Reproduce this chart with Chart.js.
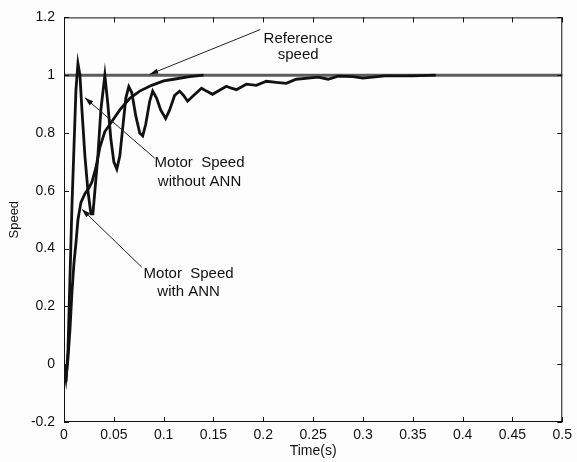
<!DOCTYPE html>
<html>
<head>
<meta charset="utf-8">
<script src="https://cdn.jsdelivr.net/npm/chart.js@4/dist/chart.umd.min.js"></script>
<style>
html,body{margin:0;padding:0;background:#fdfdfd;}
#wrap{position:relative;width:577px;height:462px;}
</style>
</head>
<body>
<div id="wrap"><canvas id="c" width="577" height="462"></canvas></div>
<script>
// ---- data ----
const timeNoANN = [0,0.002,0.004,0.006,0.008,0.010,0.012,0.014,0.016,0.018,0.021,0.024,0.027,0.029,0.031,0.034,0.037,0.041,0.044,0.047,0.050,0.053,0.056,0.059,0.062,0.065,0.068,0.072,0.076,0.079,0.082,0.086,0.089,0.093,0.097,0.102,0.106,0.111,0.116,0.120,0.124,0.130,0.138,0.143,0.149,0.156,0.163,0.168,0.173,0.183,0.193,0.203,0.213,0.223,0.233,0.245,0.255,0.265,0.275,0.290,0.300,0.322,0.350,0.373];
const speedNoANN = [0,-0.06,0.05,0.30,0.55,0.75,0.95,1.04,1.00,0.88,0.72,0.60,0.52,0.52,0.60,0.72,0.88,1.00,0.90,0.78,0.70,0.675,0.72,0.82,0.92,0.96,0.94,0.86,0.80,0.79,0.83,0.91,0.945,0.92,0.88,0.85,0.88,0.93,0.945,0.93,0.91,0.93,0.955,0.945,0.934,0.948,0.962,0.955,0.95,0.969,0.965,0.979,0.975,0.972,0.986,0.99,0.993,0.986,0.997,0.995,0.99,0.998,0.998,1.0];
const timeANN = [0,0.002,0.004,0.006,0.008,0.010,0.012,0.014,0.017,0.021,0.025,0.028,0.032,0.036,0.041,0.048,0.056,0.066,0.076,0.088,0.100,0.110,0.126,0.140];
const speedANN = [0,-0.05,0.02,0.12,0.25,0.35,0.42,0.50,0.56,0.59,0.61,0.63,0.68,0.75,0.805,0.84,0.88,0.92,0.945,0.965,0.98,0.986,0.995,1.0];
const timeRef = [0,0.5];
const speedRef = [1,1];
const xTickLabels = ['0','0.05','0.1','0.15','0.2','0.25','0.3','0.35','0.4','0.45','0.5'];
const yTickLabels = ['-0.2','0','0.2','0.4','0.6','0.8','1','1.2'];
const xTitle = 'Time(s)';
const yTitle = 'Speed';
const notes = [
  {lines:['Reference','speed'], tx:0.235, ty:[1.11,1.055], from:[0.197,1.158], to:[0.086,1.003]},
  {lines:['Motor  Speed','without ANN'], tx:0.136, ty:[0.684,0.618], from:[0.091,0.713], to:[0.021,0.922]},
  {lines:['Motor  Speed','with ANN'], tx:0.125, ty:[0.298,0.236], from:[0.078,0.336], to:[0.018,0.536]}
];

const zip = (xs, ys) => xs.map((x, i) => ({x: x, y: ys[i]}));
const FONT = "'Liberation Sans', Arial, sans-serif";

const frame = {
  id: 'frame',
  afterDraw(chart) {
    const {ctx, chartArea: a, scales: {x, y}} = chart;
    ctx.save();
    ctx.strokeStyle = '#111';
    ctx.lineWidth = 1;
    ctx.strokeRect(a.left + 0.5, a.top + 0.5, a.right - a.left - 1, a.bottom - a.top - 1);
    const L = 5;
    ctx.beginPath();
    x.ticks.forEach(t => {
      const p = Math.round(x.getPixelForValue(t.value)) + 0.5;
      ctx.moveTo(p, a.bottom); ctx.lineTo(p, a.bottom - L);
      ctx.moveTo(p, a.top); ctx.lineTo(p, a.top + L);
    });
    y.ticks.forEach(t => {
      const p = Math.round(y.getPixelForValue(t.value)) + 0.5;
      ctx.moveTo(a.left, p); ctx.lineTo(a.left + L, p);
      ctx.moveTo(a.right, p); ctx.lineTo(a.right - L, p);
    });
    ctx.stroke();
    // annotations
    ctx.fillStyle = '#111';
    ctx.strokeStyle = '#222';
    ctx.font = '15px ' + FONT;
    ctx.textAlign = 'center';
    ctx.textBaseline = 'alphabetic';
    notes.forEach(n => {
      n.lines.forEach((s, i) => ctx.fillText(s, x.getPixelForValue(n.tx), y.getPixelForValue(n.ty[i])));
      const x1 = x.getPixelForValue(n.from[0]), y1 = y.getPixelForValue(n.from[1]);
      const x2 = x.getPixelForValue(n.to[0]), y2 = y.getPixelForValue(n.to[1]);
      ctx.beginPath(); ctx.moveTo(x1, y1); ctx.lineTo(x2, y2); ctx.lineWidth = 1; ctx.stroke();
      const ang = Math.atan2(y2 - y1, x2 - x1), h = 9, w = 0.3;
      ctx.beginPath();
      ctx.moveTo(x2, y2);
      ctx.lineTo(x2 - h * Math.cos(ang - w), y2 - h * Math.sin(ang - w));
      ctx.lineTo(x2 - h * Math.cos(ang + w), y2 - h * Math.sin(ang + w));
      ctx.closePath(); ctx.fill();
    });
    ctx.restore();
  }
};

new Chart(document.getElementById('c'), {
  type: 'line',
  data: {
    datasets: [
      {label: 'Motor Speed without ANN', data: zip(timeNoANN, speedNoANN), borderColor: '#111', borderWidth: 2.8, pointRadius: 0, tension: 0, fill: false},
      {label: 'Motor Speed with ANN', data: zip(timeANN, speedANN), borderColor: '#111', borderWidth: 2.8, pointRadius: 0, tension: 0, fill: false},
      {label: 'Reference speed', data: zip(timeRef, speedRef), borderColor: '#5c5c5c', borderWidth: 3, pointRadius: 0, tension: 0, fill: false}
    ]
  },
  options: {
    responsive: false,
    animation: false,
    events: [],
    layout: {padding: {left: 0, right: 11, top: 15, bottom: 0}},
    plugins: {legend: {display: false}, tooltip: {enabled: false}},
    scales: {
      x: {
        type: 'linear', min: 0, max: 0.5,
        afterFit: s => { s.height = 40; },
        afterBuildTicks: s => { s.ticks = xTickLabels.map(v => ({value: parseFloat(v)})); },
        ticks: {padding: 5, color: '#111', font: {family: FONT, size: 14}, maxRotation: 0,
          callback: (v, i) => xTickLabels[i]},
        grid: {display: false, drawTicks: false},
        border: {display: false},
        title: {display: true, text: xTitle, color: '#111', font: {family: FONT, size: 14}, padding: {top: 0, bottom: 2}}
      },
      y: {
        type: 'linear', min: -0.2, max: 1.2,
        afterFit: s => { s.width = 64; },
        afterBuildTicks: s => { s.ticks = yTickLabels.map(v => ({value: parseFloat(v)})); },
        ticks: {padding: 9, color: '#111', font: {family: FONT, size: 14},
          callback: (v, i) => yTickLabels[i]},
        grid: {display: false, drawTicks: false},
        border: {display: false},
        title: {display: true, text: yTitle, color: '#111', font: {family: FONT, size: 13}, padding: {top: 7, bottom: 0}}
      }
    }
  },
  plugins: [frame]
});
</script>
</body>
</html>
